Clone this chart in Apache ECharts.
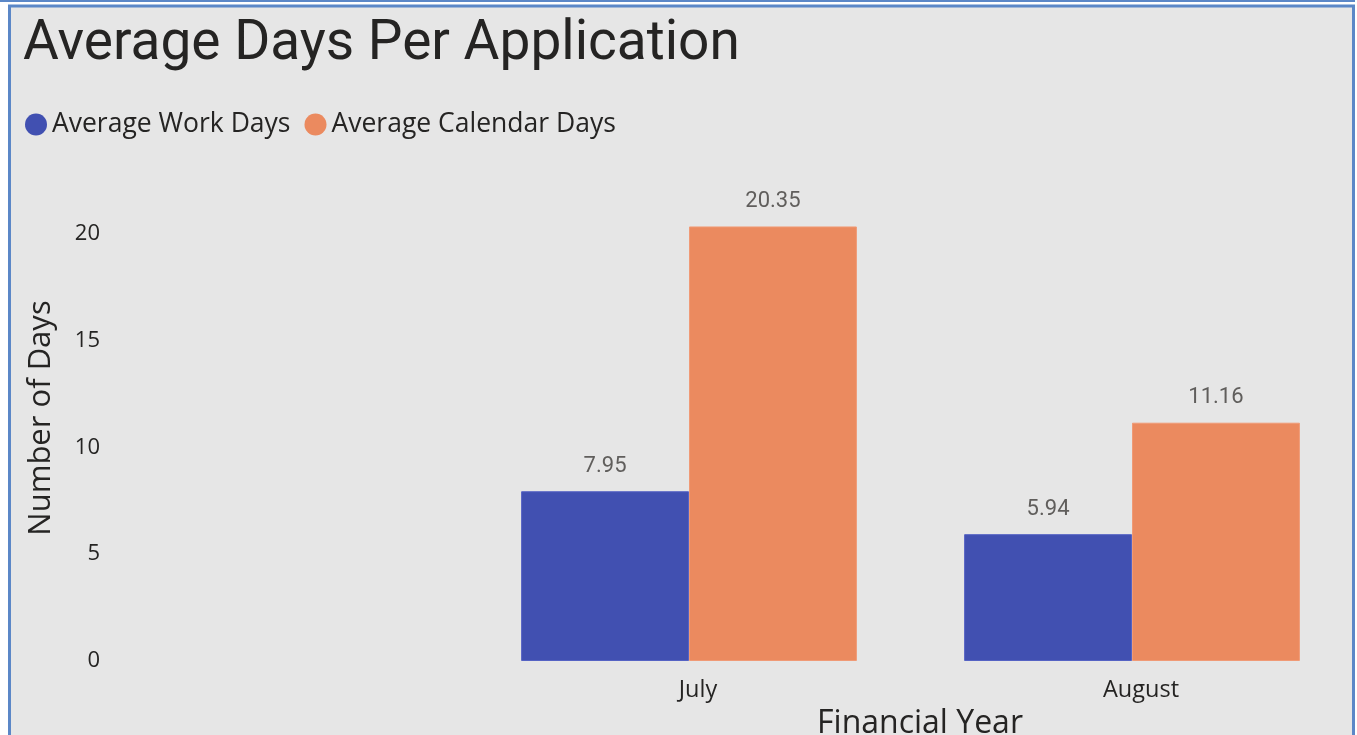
<!DOCTYPE html>
<html>
<head>
<meta charset="utf-8">
<script src="https://cdn.jsdelivr.net/npm/echarts@6/dist/echarts.min.js"></script>
<style>
html,body{margin:0;padding:0;background:#ffffff;}
#chart{width:1357px;height:735px;}
</style>
</head>
<body>
<div id="chart"></div>
<script>
const categories = ['July', 'August'];
const workDays = [7.95, 5.94];
const calendarDays = [20.35, 11.16];
const seriesNames = ['Average Work Days', 'Average Calendar Days'];
const yTicks = [0, 5, 10, 15, 20];

const FONT = 'Roboto, "Noto Sans", sans-serif';
const FONT2 = '"Open Sans", "Noto Sans", sans-serif';
const chart = echarts.init(document.getElementById('chart'), null, {renderer: 'canvas'});
const option = {
  backgroundColor: '#ffffff',
  animation: false,
  graphic: [
    {type: 'rect', z: -10, silent: true, shape: {x: 0, y: 0, width: 1355, height: 2}, style: {fill: '#5B87C7'}},
    {type: 'rect', z: -10, silent: true, shape: {x: 9.5, y: 6, width: 1344, height: 740}, style: {fill: '#E6E6E6', stroke: '#5B87C7', lineWidth: 3}}
  ],
  title: {
    text: 'Average Days Per Application',
    left: 18, top: 13,
    textStyle: {fontFamily: FONT, fontSize: 55, fontWeight: 'normal', color: '#252423'}
  },
  legend: {
    left: 20, top: 106,
    icon: 'circle', itemWidth: 22, itemHeight: 22, itemGap: 14,
    data: seriesNames,
    itemStyle: {borderWidth: 0},
    textStyle: {fontFamily: FONT2, fontSize: 26.5, color: '#252423'}
  },
  grid: {left: 467.5, right: 3.5, top: 175, bottom: 74, containLabel: false, outerBoundsMode: 'none'},
  xAxis: {
    type: 'category',
    data: categories,
    name: 'Financial Year',
    nameLocation: 'middle',
    nameGap: 47,
    nameTextStyle: {fontFamily: FONT2, fontSize: 32, color: '#252423', padding: [0, 0, 0, 19]},
    axisLine: {show: false},
    axisTick: {show: false},
    axisLabel: {fontFamily: FONT2, fontSize: 23.5, color: '#252423', margin: 17, padding: [0, 0, 0, 18]}
  },
  yAxis: {
    type: 'value',
    min: 0, max: 22.76, interval: 5,
    name: 'Number of Days',
    nameLocation: 'middle',
    nameGap: 411,
    nameTextStyle: {fontFamily: FONT2, fontSize: 31, color: '#252423'},
    axisLine: {show: false},
    axisTick: {show: false},
    splitLine: {show: false},
    axisLabel: {
      fontFamily: FONT2, fontSize: 22, color: '#252423', margin: 367.5,
      padding: [6, 0, 0, 0],
      showMaxLabel: false,
      formatter: function (v) { return yTicks.indexOf(v) >= 0 ? String(v) : ''; }
    }
  },
  series: [
    {
      name: seriesNames[0], type: 'bar', data: workDays,
      barGap: '0%', barCategoryGap: '24.2%',
      itemStyle: {color: '#4150B1', borderColor: '#5563C4', borderWidth: 1},
      label: {show: true, position: 'top', distance: 14, fontFamily: FONT, fontSize: 22, color: '#605E5C',
        formatter: function (p) { return p.value.toFixed(2); }}
    },
    {
      name: seriesNames[1], type: 'bar', data: calendarDays,
      itemStyle: {color: '#EB8A5F', borderColor: '#F09A76', borderWidth: 1},
      label: {show: true, position: 'top', distance: 14, fontFamily: FONT, fontSize: 22, color: '#605E5C',
        formatter: function (p) { return p.value.toFixed(2); }}
    }
  ]
};
chart.setOption(option);
</script>
</body>
</html>
